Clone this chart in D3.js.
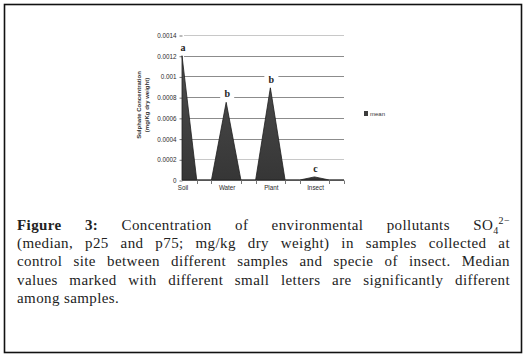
<!DOCTYPE html>
<html>
<head>
<meta charset="utf-8">
<script src="https://cdn.jsdelivr.net/npm/d3@7"></script>
<style>
  body { margin: 0; background: #fff; }
  #wrap { position: relative; width: 526px; height: 358px; }
  svg { position: absolute; left: 0; top: 0; }
  #caption {
    position: absolute; left: 17px; top: 216px; width: 493px;
    font-family: "Liberation Serif", "Times New Roman", serif; font-size: 15px; line-height: 18.2px;
    letter-spacing: 0.4px; color: #222;
  }
  #caption .ln { text-align: justify; text-align-last: justify; white-space: nowrap; }
  #caption .ln.last { text-align-last: left; }
  #caption sub, #caption sup { font-size: 10px; line-height: 0; }
</style>
</head>
<body>
<div id="wrap">
  <div id="chart"></div>
  <div id="caption"></div>
</div>
<script>
// values: each sample sits between two empty slots
let slotLabels = ["Soil", "", "", "Water", "", "", "Plant", "", "", "Insect", "", ""];
let slotValues = [0.0012, 0, 0, 0.00075, 0, 0, 0.00089, 0, 0, 0.00003, 0, 0];
let sigLetters = ["a", "", "", "b", "", "", "b", "", "", "c", "", ""];
let yTicks = [0, 0.0002, 0.0004, 0.0006, 0.0008, 0.001, 0.0012, 0.0014];
let legendLabels = ["mean"];
let captionLines = [
  '<b>Figure 3:</b> Concentration of environmental pollutants SO<sub>4</sub><sup>2&minus;</sup>',
  '(median, p25 and p75; mg/kg dry weight) in samples collected at',
  'control site between different samples and specie of insect. Median',
  'values marked with different small letters are significantly different',
  'among samples.'
];

const width = 526, height = 358;

let svg = d3.select("#chart")
  .append("svg")
  .attr("width", width)
  .attr("height", height);

// outer frame
svg.append("rect")
  .attr("x", 4.5).attr("y", 4.5)
  .attr("width", 517).attr("height", 348)
  .attr("fill", "none")
  .attr("stroke", "#111")
  .attr("stroke-width", 1.6);

// scales
let xScale = d3.scalePoint()
  .domain(d3.range(slotLabels.length))
  .range([182, 344]);

let yScale = d3.scaleLinear()
  .domain([0, 0.0014])
  .range([180, 35]);

// gridlines
svg.append("g")
  .selectAll("line")
  .data(yTicks.filter(d => d > 0))
  .join("line")
  .attr("x1", 184).attr("x2", 344)
  .attr("y1", d => Math.round(yScale(d)) + 0.5)
  .attr("y2", d => Math.round(yScale(d)) + 0.5)
  .attr("stroke", d => (d === 0.0002 || d === 0.0014) ? "#c8c8c8" : "#8c8c8c")
  .attr("stroke-width", 1);

// y axis: ticks and labels
let yAxis = d3.axisLeft(yScale)
  .tickValues(yTicks)
  .tickSize(3)
  .tickPadding(3)
  .tickFormat(d => d === 0 ? "0" : String(+d.toFixed(4)));

svg.append("g")
  .attr("transform", "translate(182.5,0.5)")
  .call(yAxis)
  .call(g => g.select(".domain").remove())
  .call(g => g.selectAll("line").attr("stroke", "#777"))
  .call(g => g.selectAll("text")
    .attr("font-family", "Liberation Sans, sans-serif")
    .attr("font-size", 6.3)
    .attr("fill", "#2a2a2a"));

// area
let area = d3.area()
  .x((d, i) => xScale(i))
  .y0(yScale(0))
  .y1(d => yScale(d));

let grad = svg.append("defs").append("linearGradient")
  .attr("id", "fillgrad")
  .attr("x1", 0).attr("x2", 0)
  .attr("gradientUnits", "userSpaceOnUse")
  .attr("y1", yScale(0.0012)).attr("y2", yScale(0));
grad.append("stop").attr("offset", 0).attr("stop-color", "#4e4e4e");
grad.append("stop").attr("offset", 1).attr("stop-color", "#363636");

svg.append("path")
  .datum(slotValues)
  .attr("d", area)
  .attr("fill", "url(#fillgrad)")
  .attr("stroke", "#1e1e1e")
  .attr("stroke-width", 0.8);

// x axis
svg.append("line")
  .attr("x1", 182).attr("x2", 344)
  .attr("y1", 180.5).attr("y2", 180.5)
  .attr("stroke", "#555");

svg.append("g")
  .selectAll("line")
  .data(d3.range(1, slotLabels.length).filter(i => slotLabels[i] === ""))
  .join("line")
  .attr("x1", i => Math.round(xScale(i)) + 0.5)
  .attr("x2", i => Math.round(xScale(i)) + 0.5)
  .attr("y1", 180.5).attr("y2", 184)
  .attr("stroke", "#777");

svg.append("g")
  .selectAll("text")
  .data(slotLabels.map((l, i) => ({ l, i })).filter(d => d.l !== ""))
  .join("text")
  .attr("x", d => xScale(d.i) + 1)
  .attr("y", 190)
  .attr("text-anchor", "middle")
  .attr("font-family", "Liberation Sans, sans-serif")
  .attr("font-size", 6.3)
  .attr("fill", "#2a2a2a")
  .text(d => d.l);

// significance letters with white box behind them
let letters = svg.append("g")
  .selectAll("g")
  .data(sigLetters.map((l, i) => ({ l, i, v: slotValues[i] })).filter(d => d.l !== ""))
  .join("g")
  .attr("transform", d => `translate(${xScale(d.i) + 1},${yScale(d.v) - 8})`);

letters.append("rect")
  .attr("x", -7).attr("y", -7)
  .attr("width", 14).attr("height", 12)
  .attr("fill", "#fff");

letters.append("text")
  .attr("text-anchor", "middle")
  .attr("y", 3)
  .attr("font-family", "Liberation Serif, serif")
  .attr("font-weight", "bold")
  .attr("font-size", 10)
  .attr("fill", "#222")
  .text(d => d.l);

// y axis title
let title = svg.append("text")
  .attr("transform", "translate(141,105) rotate(-90)")
  .attr("text-anchor", "middle")
  .attr("font-family", "Liberation Sans, sans-serif")
  .attr("font-weight", "bold")
  .attr("font-size", 6)
  .attr("fill", "#333");
title.append("tspan").attr("x", 0).attr("dy", 0).text("Sulphate Concentration");
title.append("tspan").attr("x", 0).attr("dy", 8).text("(mg/Kg dry weight)");

// legend
let legend = svg.append("g")
  .selectAll("g")
  .data(legendLabels)
  .join("g")
  .attr("transform", (d, i) => `translate(364,${111 + i * 10})`);

legend.append("rect")
  .attr("width", 4).attr("height", 5)
  .attr("fill", "#3c3c3c");

legend.append("text")
  .attr("x", 6).attr("y", 5)
  .attr("font-family", "Liberation Sans, sans-serif")
  .attr("font-size", 6)
  .attr("fill", "#333")
  .text(d => d);

// caption, one justified line per div
d3.select("#caption")
  .selectAll("div")
  .data(captionLines)
  .join("div")
  .attr("class", (d, i) => i === captionLines.length - 1 ? "ln last" : "ln")
  .html(d => d);
</script>
</body>
</html>
